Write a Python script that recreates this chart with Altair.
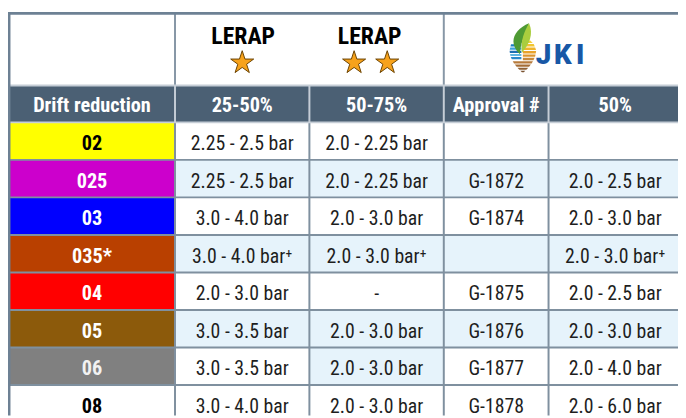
import altair as alt
import numpy as np
import pandas as pd

# ---------------- data ----------------
codes = ["02", "025", "03", "035*", "04", "05", "06", "08"]
code_fill = ["#ffff00", "#cc00cc", "#0000ff", "#b94000", "#ff0000", "#8c5a0b", "#808080", "#ffffff"]
code_text = ["#000000", "#ffffff", "#ffffff", "#ffffff", "#ffffff", "#ffffff", "#f2f2f2", "#000000"]

lerap_25_50 = ["2.25 - 2.5 bar", "2.25 - 2.5 bar", "3.0 - 4.0 bar", "3.0 - 4.0 bar\u207a",
               "2.0 - 3.0 bar", "3.0 - 3.5 bar", "3.0 - 3.5 bar", "3.0 -  4.0 bar"]
lerap_50_75 = ["2.0 - 2.25 bar", "2.0 - 2.25 bar", "2.0 - 3.0 bar", "2.0 - 3.0 bar\u207a",
               "-", "2.0 - 3.0 bar", "2.0 - 3.0 bar", "2.0 - 3.0 bar"]
approval = ["", "G-1872", "G-1874", "", "G-1875", "G-1876", "G-1877", "G-1878"]
jki_50 = ["", "2.0 - 2.5 bar", "2.0 - 3.0 bar", "2.0 - 3.0 bar\u207a",
          "2.0 - 2.5 bar", "2.0 - 3.0 bar", "2.0 - 4.0 bar", "2.0 - 6.0 bar"]

headers = ["Drift reduction", "25-50%", "50-75%", "Approval #", "50%"]
lerap_titles = ["LERAP", "LERAP"]
lerap_stars = [1, 2]
logo_letters = ["J", "K", "I"]

# light-blue shading per data cell (columns 2..5)
shade = [
    [0, 0, 0, 0],
    [1, 1, 1, 1],
    [0, 0, 0, 0],
    [1, 1, 1, 1],
    [0, 0, 0, 0],
    [1, 1, 1, 1],
    [0, 1, 0, 0],
    [0, 0, 0, 0],
]

# ---------------- layout ----------------
W, H = 678, 410
col_w = [168, 136, 136, 106, 135]
col_edges = [1]
for w in col_w:
    col_edges.append(col_edges[-1] + w)
col_c = [(col_edges[i] + col_edges[i + 1]) / 2 for i in range(5)]
top, h1_bot, h2_bot = 3, 76, 113.3
row_h = 37.95
row_edges = [h2_bot + row_h * i for i in range(9)]
row_c = [(row_edges[i] + row_edges[i + 1]) / 2 for i in range(8)]

FONT = "Roboto Condensed"
LIGHT = "#e6f3fb"
HEAD = "#4b6074"
GRID = "#7f909f"
LIGHTGRID = "#c5cdd6"
BORDER = "#6d8194"

X = alt.X("x:Q", scale=alt.Scale(domain=[0, W], zero=False, nice=False), axis=None)
Y = alt.Y("y:Q", scale=alt.Scale(domain=[0, H], zero=False, nice=False, reverse=True), axis=None)

# ---------------- cell backgrounds ----------------
cells = []
cells.append(dict(x=col_edges[0], x2=W + 10, y=h1_bot, y2=h2_bot, f=HEAD))
for r in range(8):
    cells.append(dict(x=col_edges[0], x2=col_edges[1], y=row_edges[r], y2=row_edges[r + 1], f=code_fill[r]))
    for c in range(4):
        cells.append(dict(x=col_edges[c + 1], x2=col_edges[c + 2] if c < 3 else W + 10,
                          y=row_edges[r], y2=row_edges[r + 1],
                          f=LIGHT if shade[r][c] else "#ffffff"))
cells_df = pd.DataFrame(cells)
bg = alt.Chart(cells_df).mark_rect(clip=True).encode(
    x=X, x2="x2:Q", y=Y, y2="y2:Q", fill=alt.Fill("f:N", scale=None)
)

# ---------------- grid lines ----------------
lines = []
for i in range(1, 9):
    lines.append(dict(x=col_edges[0], x2=W + 10, y=row_edges[i], y2=row_edges[i], c=GRID, w=2))
for e in col_edges[1:5]:
    lines.append(dict(x=e, x2=e, y=h2_bot, y2=H + 10, c=GRID, w=2))
    lines.append(dict(x=e, x2=e, y=h1_bot, y2=h2_bot, c=LIGHTGRID, w=2))
for e in [col_edges[1], col_edges[3]]:
    lines.append(dict(x=e, x2=e, y=top, y2=h1_bot, c="#8797a6", w=2))
lines.append(dict(x=col_edges[0], x2=W + 10, y=h1_bot, y2=h1_bot, c=LIGHTGRID, w=2))
lines.append(dict(x=col_edges[0], x2=W + 10, y=h2_bot, y2=h2_bot, c=LIGHTGRID, w=2))
lines.append(dict(x=0, x2=W + 10, y=top, y2=top, c=BORDER, w=3))
lines.append(dict(x=col_edges[0], x2=col_edges[0], y=top - 1, y2=H + 10, c=BORDER, w=3))
lines_df = pd.DataFrame(lines)
grid = alt.Chart(lines_df).mark_rule(clip=True).encode(
    x=X, x2="x2:Q", y=Y, y2="y2:Q",
    color=alt.Color("c:N", scale=None), strokeWidth=alt.StrokeWidth("w:Q", scale=None)
)

# ---------------- texts ----------------
reg, bold = [], []
cols = [lerap_25_50, lerap_50_75, approval, jki_50]
for r in range(8):
    bold.append(dict(x=col_c[0], y=row_c[r] + 3, t=codes[r], c=code_text[r], s=20.5))
    for c in range(4):
        if cols[c][r]:
            reg.append(dict(x=col_c[c + 1], y=row_c[r] + 3, t=cols[c][r], c="#1e1e1e", s=20))
for i, hd in enumerate(headers):
    bold.append(dict(x=col_c[i], y=(h1_bot + h2_bot) / 2 + 2, t=hd, c="#ffffff", s=20.5))
lerap_x = [238, 366]
for i, t in enumerate(lerap_titles):
    bold.append(dict(x=lerap_x[i], y=27, t=t, c="#000000", s=24))

reg_t = alt.Chart(pd.DataFrame(reg)).mark_text(font=FONT, baseline="middle", align="center").encode(
    x=X, y=Y, text="t:N", color=alt.Color("c:N", scale=None), size=alt.Size("s:Q", scale=None)
)
bold_t = alt.Chart(pd.DataFrame(bold)).mark_text(font=FONT, fontWeight="bold", baseline="middle",
                                                 align="center").encode(
    x=X, y=Y, text="t:N", color=alt.Color("c:N", scale=None), size=alt.Size("s:Q", scale=None)
)

# ---------------- stars ----------------
STAR = ("M0,-1 L0.225,-0.309 L0.951,-0.309 L0.363,0.118 L0.588,0.809 L0,0.382 "
        "L-0.588,0.809 L-0.363,0.118 L-0.951,-0.309 L-0.225,-0.309 Z")
star_pos = []
for i, n in enumerate(lerap_stars):
    for k in range(n):
        off = (k - (n - 1) / 2) * 33.5
        star_pos.append(dict(x=lerap_x[i] - 1 + off + (2 if n == 2 else 0), y=53))
stars = alt.Chart(pd.DataFrame(star_pos)).mark_point(
    shape=STAR, filled=True, size=600, fill="#f7a21b", stroke="#6b4200", strokeWidth=1, opacity=1
).encode(x=X, y=Y)

# ---------------- JKI logo ----------------
ys = [-0.35, -0.15, 0.1, 0.35, 0.6, 0.8, 1.0]
xr_ = [0.25, 0.45, 0.54, 0.5, 0.38, 0.22, 0.02]
xl_ = [-0.3, -0.48, -0.54, -0.5, -0.38, -0.22, -0.02]


def xr(y):
    return float(np.interp(y, ys, xr_))


def xl(y):
    return float(np.interp(y, ys, xl_))


def band(y0, y1, left, right):
    a0 = xl(y0) if left is None else left
    a1 = xl(y1) if left is None else left
    b0 = xr(y0) if right is None else right
    b1 = xr(y1) if right is None else right
    return f"M{a0:.3f},{y0:.3f} L{b0:.3f},{y0:.3f} L{b1:.3f},{y1:.3f} L{a1:.3f},{y1:.3f} Z"


parts = []
for (y0, y1), col in zip([(-0.15, -0.06), (-0.02, 0.07), (0.11, 0.2), (0.24, 0.33), (0.37, 0.46)],
                         ["#1d7fc4", "#3ea3dc", "#1d6fb3", "#5fb6e2", "#2a8acb"]):
    parts.append(dict(p=band(y0, y1, None, -0.06), c=col, o=0))
for (y0, y1), col in zip([(-0.3, -0.2), (-0.16, -0.06), (-0.02, 0.08), (0.12, 0.22), (0.26, 0.36), (0.4, 0.5)],
                         ["#f3d03a", "#f2c530", "#efb52c", "#e9a32c", "#dd942e", "#c98a3c"]):
    parts.append(dict(p=band(y0, y1, 0.0, None), c=col, o=1))
for (y0, y1), col in zip([(0.54, 0.63), (0.67, 0.76), (0.8, 0.88), (0.92, 0.98)],
                         ["#b77a3a", "#a56d36", "#8f6034", "#7a5230"]):
    parts.append(dict(p=band(y0, y1, None, None), c=col, o=2))
parts.append(dict(p="M0.25,-1 C-0.35,-0.75 -0.62,-0.2 -0.12,0.25 C-0.1,-0.25 0.1,-0.5 0.25,-1 Z",
                  c="#4e9a34", o=3))
parts.append(dict(p="M0.25,-1 C0.05,-0.65 -0.1,-0.3 -0.04,0.2 C0.25,-0.15 0.45,-0.55 0.25,-1 Z",
                  c="#a9cd3e", o=4))
logo_df = pd.DataFrame(parts)
logo_df["x"] = 521
logo_df["y"] = 38
logo = alt.Chart(logo_df).mark_point(filled=True, size=2500, opacity=1, strokeWidth=0).encode(
    x=X, y=Y, shape=alt.Shape("p:N", scale=None, legend=None),
    fill=alt.Fill("c:N", scale=None), order=alt.Order("o:Q")
)

letters_df = pd.DataFrame(dict(t=logo_letters, x=[542, 561.5, 579], y=[54, 54, 54]))
letters = alt.Chart(letters_df).mark_text(font="Roboto", fontWeight=900, fontSize=28,
                                          baseline="alphabetic", align="center", color="#1858a6").encode(
    x=X, y=Y, text="t:N"
)

chart = alt.layer(bg, grid, reg_t, bold_t, stars, logo, letters).properties(
    width=W, height=H, padding=0, autosize=alt.AutoSizeParams(type="none")
).configure_view(stroke=None)

chart.save("out.html", embed_options={"renderer": "svg", "actions": False})
